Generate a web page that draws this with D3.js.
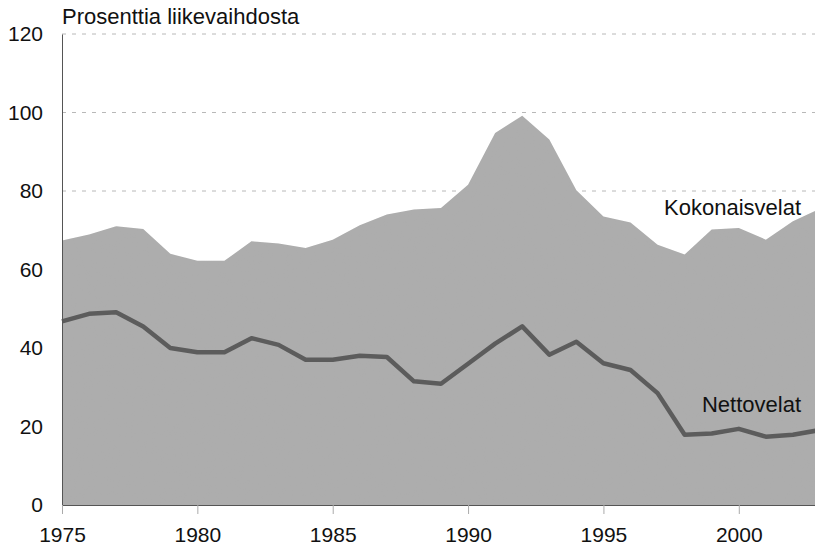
<!DOCTYPE html>
<html lang="fi">

<head>
    <meta charset="utf-8" />
    <title>Velat</title>
    <script type="text/javascript" src="https://cdn.jsdelivr.net/npm/d3@7"></script>
    <style type="text/css">
        body {
            margin: 0;
            background: #fff;
        }
        text {
            font-family: "Liberation Sans", Arial, sans-serif;
            fill: #111;
        }
    </style>
</head>

<body>
    <script type="text/javascript">
        var years = d3.range(1975, 2004);
        var kokonaisvelat = [67.4, 68.9, 71.0, 70.3, 64.0, 62.2, 62.2, 67.2, 66.6, 65.5,
            67.6, 71.3, 74.0, 75.3, 75.7, 81.6, 94.8, 99.2, 93.1, 80.2,
            73.5, 72.0, 66.3, 63.8, 70.2, 70.6, 67.6, 72.3, 75.5];
        var nettovelat = [46.8, 48.7, 49.1, 45.5, 40.0, 38.9, 38.9, 42.5, 40.8, 37.0,
            37.0, 38.0, 37.7, 31.5, 30.9, 36.0, 41.1, 45.5, 38.3, 41.6,
            36.1, 34.4, 28.5, 17.9, 18.2, 19.4, 17.4, 17.9, 19.1];
        var yTicks = [0, 20, 40, 60, 80, 100, 120];
        var xTicks = [1975, 1980, 1985, 1990, 1995, 2000];

        var w = 815;
        var h = 545;

        var xScale = d3.scaleLinear().domain([1975, 2003]).range([62, 820]);
        var yScale = d3.scaleLinear().domain([0, 120]).range([505, 34]);

        var svg = d3.select("body")
            .append("svg")
            .attr("width", w)
            .attr("height", h);

        // grainy print look for the area
        var filter = svg.append("defs").append("filter")
            .attr("id", "grain")
            .attr("x", 0).attr("y", 0).attr("width", 1).attr("height", 1);
        filter.append("feTurbulence")
            .attr("type", "fractalNoise")
            .attr("baseFrequency", 0.9)
            .attr("numOctaves", 2)
            .attr("result", "noise");
        filter.append("feColorMatrix")
            .attr("in", "noise")
            .attr("type", "matrix")
            .attr("values", "0 0 0 0 0.4  0 0 0 0 0.4  0 0 0 0 0.4  0 0 0 0.2 0")
            .attr("result", "grey");
        filter.append("feComposite")
            .attr("in", "grey")
            .attr("in2", "SourceGraphic")
            .attr("operator", "in")
            .attr("result", "grain");
        var merge = filter.append("feMerge");
        merge.append("feMergeNode").attr("in", "SourceGraphic");
        merge.append("feMergeNode").attr("in", "grain");

        // gridlines
        svg.selectAll("line.grid")
            .data(yTicks.slice(1))
            .enter()
            .append("line")
            .attr("class", "grid")
            .attr("x1", 62)
            .attr("x2", w)
            .attr("y1", function(d) { return yScale(d); })
            .attr("y2", function(d) { return yScale(d); })
            .attr("stroke", "#b8b8b8")
            .attr("stroke-width", 1)
            .attr("stroke-dasharray", "4,6");

        // total debt area
        var area = d3.area()
            .x(function(d, i) { return xScale(years[i]); })
            .y0(yScale(0))
            .y1(function(d) { return yScale(d); });

        svg.append("path")
            .datum(kokonaisvelat)
            .attr("d", area)
            .attr("fill", "#adadad")
            .attr("filter", "url(#grain)");

        // net debt line
        var line = d3.line()
            .x(function(d, i) { return xScale(years[i]); })
            .y(function(d) { return yScale(d); });

        svg.append("path")
            .datum(nettovelat)
            .attr("d", line)
            .attr("fill", "none")
            .attr("stroke", "#5c5c5c")
            .attr("stroke-width", 4.5)
            .attr("stroke-linejoin", "round");

        // axes
        var yAxis = d3.axisLeft(yScale)
            .tickValues(yTicks)
            .tickSize(0)
            .tickPadding(19);
        var gy = svg.append("g")
            .attr("transform", "translate(62,0)")
            .call(yAxis);
        gy.select(".domain").attr("stroke", "#555").attr("stroke-width", 1);
        gy.selectAll("text")
            .attr("font-size", "21px")
            .attr("font-family", "Liberation Sans, Arial, sans-serif")
            .attr("fill", "#111");

        var xAxis = d3.axisBottom(xScale)
            .tickValues(xTicks)
            .tickFormat(d3.format("d"))
            .tickSize(9)
            .tickSizeOuter(0)
            .tickPadding(13);
        var gx = svg.append("g")
            .attr("transform", "translate(0," + yScale(0) + ")")
            .call(xAxis);
        gx.select(".domain").attr("stroke", "#555").attr("stroke-width", 1.2);
        gx.selectAll(".tick line").attr("stroke", "#aaa");
        gx.selectAll("text")
            .attr("font-size", "21px")
            .attr("font-family", "Liberation Sans, Arial, sans-serif")
            .attr("fill", "#111");

        // titles and labels
        svg.append("text")
            .attr("x", 62)
            .attr("y", 24)
            .attr("font-size", "22px")
            .text("Prosenttia liikevaihdosta");

        svg.append("text")
            .attr("x", 801)
            .attr("y", 215)
            .attr("text-anchor", "end")
            .attr("font-size", "22px")
            .text("Kokonaisvelat");

        svg.append("text")
            .attr("x", 801)
            .attr("y", 412)
            .attr("text-anchor", "end")
            .attr("font-size", "22px")
            .text("Nettovelat");
    </script>
</body>

</html>
